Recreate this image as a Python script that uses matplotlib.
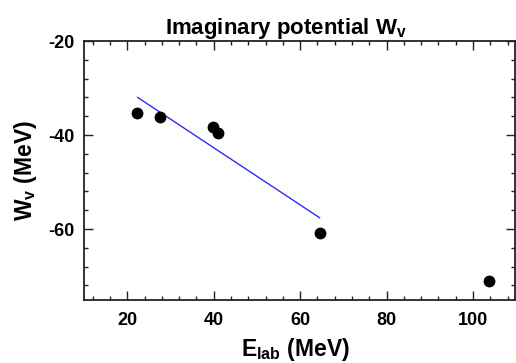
import matplotlib
matplotlib.use("Agg")
import matplotlib.pyplot as plt
from matplotlib.ticker import MultipleLocator

# measured points (E_lab in MeV, W_v in MeV)
e_lab = [22.3, 27.5, 39.9, 41.0, 64.5, 103.7]
w_v = [-35.3, -36.2, -38.4, -39.5, -60.8, -71.0]

# linear fit drawn over the low-energy points
fit_x = [22.4, 64.5]
fit_y = [-32.0, -57.6]

xticks = [20, 40, 60, 80, 100]
yticks = [-20, -40, -60]

plt.rcParams['font.family'] = ['Liberation Sans', 'DejaVu Sans']
plt.rcParams['font.weight'] = 'bold'
plt.rcParams['axes.unicode_minus'] = False
plt.rcParams['mathtext.fontset'] = 'custom'
plt.rcParams['mathtext.rm'] = 'Liberation Sans:bold'
plt.rcParams['mathtext.it'] = 'Liberation Sans:bold'
plt.rcParams['mathtext.bf'] = 'Liberation Sans:bold'

fig = plt.figure(figsize=(5.16, 3.63), dpi=100)
ax = fig.add_axes([84 / 516, 1 - 299.5 / 363, 431 / 516, 258.5 / 363])

ax.plot(fit_x, fit_y, color='#2b2bff', lw=1.0, zorder=2)
ax.plot(e_lab, w_v, 'o', color='black', ms=7.5, zorder=3)

ax.set_xlim(10, 109.7)
ax.set_ylim(-75, -20)
ax.set_xticks(xticks)
ax.set_yticks(yticks)
ax.xaxis.set_minor_locator(MultipleLocator(4))
ax.yaxis.set_minor_locator(MultipleLocator(4))

ax.tick_params(which='both', direction='in', top=True, right=True, width=1.0, color='#222222')
ax.tick_params(which='major', length=6.5)
ax.tick_params(which='minor', length=3)
ax.tick_params(axis='x', which='major', pad=9, labelsize=13)
ax.tick_params(axis='y', which='major', pad=7, labelsize=13)
for s in ax.spines.values():
    s.set_linewidth(1.3)
    s.set_color('#222222')

ax.set_xlabel(r'E$_{\mathrm{lab}}$ (MeV)', fontsize=16.5, fontweight='bold')
ax.set_ylabel(r'W$_{\mathrm{v}}$ (MeV)', fontsize=16.5, fontweight='bold')
ax.xaxis.set_label_coords(0.49, -0.142)
ax.yaxis.set_label_coords(-0.105, 0.5)
ax.set_title(r'Imaginary potential W$_{\mathrm{v}}$', fontsize=16, fontweight='bold',
             x=0.469, pad=2)

fig.savefig('out.png', dpi=100)
